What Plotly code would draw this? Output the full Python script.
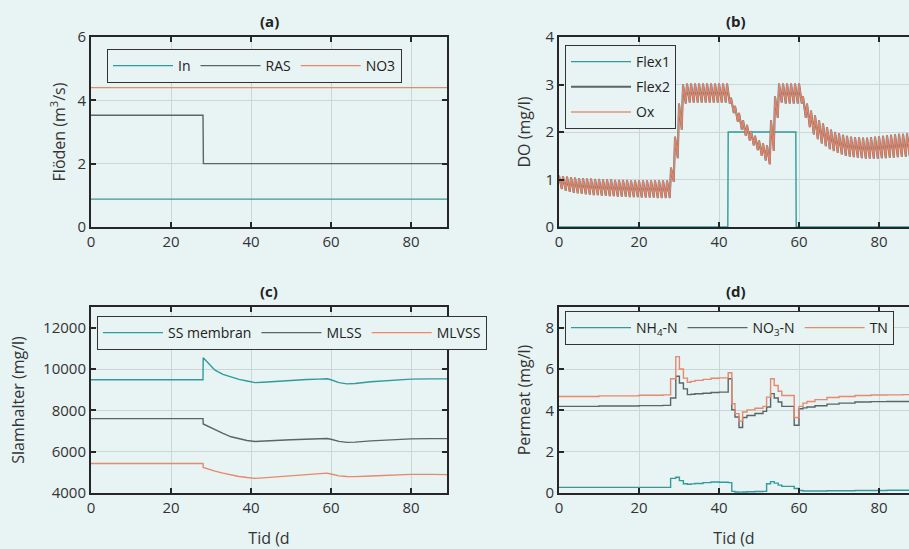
import plotly.graph_objects as go

# ---------------- data ----------------
# (a) flows
t_a = [0, 28, 28.1, 89]
q_in = [0.88, 0.88, 0.88, 0.88]
q_ras = [3.53, 3.53, 2.0, 2.0]
q_no3 = [4.4, 4.4, 4.4, 4.4]

# (b) DO: daily peak / trough of the aeration cycle, day 0..89
do_hi = [1.08, 1.07, 1.06, 1.05, 1.04, 1.03, 1.03, 1.02, 1.02, 1.01, 1.01, 1.0, 1.0, 1.0,
         0.99, 0.99, 0.99, 0.99, 0.98, 0.98, 0.98, 0.98, 0.98, 0.98, 0.98, 0.98, 0.98, 0.98,
         1.25, 1.9, 2.6, 3.0,
         3.02, 3.02, 3.02, 3.02, 3.02, 3.02, 3.02, 3.02, 3.02, 3.02, 3.02,
         2.72, 2.55, 2.4, 2.25, 2.15, 2.02, 1.92, 1.82, 1.76, 1.72,
         2.25, 2.75, 3.02,
         3.02, 3.02, 3.02, 3.02, 3.02,
         2.75, 2.6, 2.45, 2.35, 2.25, 2.18, 2.1, 2.05, 2.0, 1.97, 1.94, 1.92, 1.9, 1.89, 1.89,
         1.88, 1.88, 1.89, 1.9, 1.91, 1.92, 1.93, 1.94, 1.95, 1.96, 1.96, 1.97, 1.97, 1.98]
do_lo = [0.80, 0.76, 0.74, 0.72, 0.71, 0.70, 0.69, 0.68, 0.67, 0.67, 0.66, 0.66, 0.65, 0.65,
         0.64, 0.64, 0.64, 0.63, 0.63, 0.63, 0.62, 0.62, 0.62, 0.62, 0.61, 0.61, 0.61, 0.61,
         0.95, 1.45, 2.05, 2.6,
         2.62, 2.62, 2.62, 2.62, 2.62, 2.62, 2.62, 2.62, 2.62, 2.62, 2.6,
         2.4, 2.22, 2.05, 1.92, 1.82, 1.72, 1.62, 1.5, 1.4, 1.32,
         1.6, 2.3, 2.62,
         2.6, 2.6, 2.6, 2.6, 2.6,
         2.3, 2.1, 1.95, 1.85, 1.76, 1.7, 1.64, 1.6, 1.56, 1.53, 1.5, 1.48, 1.47, 1.46, 1.45,
         1.44, 1.44, 1.44, 1.44, 1.45, 1.45, 1.46, 1.46, 1.47, 1.48, 1.48, 1.49, 1.5, 1.5]
t_flex1 = [0, 42.2, 42.3, 59.2, 59.3, 89]
flex1 = [0, 0, 2.0, 2.0, 0, 0]

# (c) sludge concentrations
t_c = [0, 28, 28.05, 29, 30, 31, 33, 35, 37, 39, 41, 43, 46, 50, 54, 57, 59, 60, 62, 64, 66, 70, 75, 80, 85, 89]
ss_mem = [9480, 9480, 10540, 10330, 10120, 9940, 9740, 9610, 9500, 9420, 9340, 9360, 9400,
          9450, 9490, 9510, 9530, 9480, 9340, 9280, 9300, 9380, 9460, 9510, 9520, 9520]
mlss = [7600, 7600, 7340, 7250, 7150, 7040, 6880, 6720, 6620, 6540, 6490, 6500, 6540,
        6580, 6610, 6630, 6640, 6600, 6500, 6450, 6460, 6520, 6580, 6620, 6630, 6630]
mlvss = [5430, 5430, 5240, 5170, 5110, 5060, 4960, 4870, 4800, 4750, 4710, 4730, 4770,
         4830, 4890, 4930, 4960, 4920, 4830, 4800, 4790, 4820, 4870, 4900, 4900, 4890]

# (d) permeate nitrogen
t_d = [0, 10, 20, 26, 27.9, 29.2, 30.1, 31.1, 32.1, 33, 34, 36, 38, 40, 42.3, 43.2, 44.0, 45.0,
       45.9, 47, 49, 51.0, 51.9, 52.9, 53.8, 54.8, 55.7, 58.8, 60.0, 61, 62, 64, 67, 70, 74,
       78, 82, 86, 89]
nh4 = [0.27, 0.27, 0.27, 0.27, 0.71, 0.76, 0.6, 0.45, 0.42, 0.44, 0.46, 0.5, 0.53, 0.52, 0.5,
       0.08, 0.05, 0.04, 0.05, 0.06, 0.07, 0.08, 0.45, 0.55, 0.48, 0.38, 0.32, 0.22, 0.12, 0.1,
       0.1, 0.1, 0.11, 0.11, 0.12, 0.12, 0.13, 0.13, 0.13]
no3 = [4.19, 4.21, 4.23, 4.24, 4.6, 5.65, 5.32, 5.04, 4.76, 4.78, 4.8, 4.83, 4.86, 4.88, 5.53,
       4.03, 3.68, 3.17, 3.65, 3.75, 3.85, 3.95, 4.16, 4.81, 4.6, 4.4, 4.19, 3.28, 4.08, 4.12,
       4.16, 4.22, 4.3, 4.35, 4.4, 4.42, 4.43, 4.43, 4.43]
tn = [4.67, 4.7, 4.73, 4.75, 5.53, 6.6, 6.0, 5.56, 5.36, 5.4, 5.45, 5.5, 5.55, 5.57, 5.82,
      4.32, 3.84, 3.48, 3.92, 4.02, 4.1, 4.19, 4.64, 5.53, 5.2, 4.92, 4.72, 3.65, 4.19, 4.35,
      4.43, 4.52, 4.62, 4.67, 4.72, 4.74, 4.75, 4.76, 4.76]

# build the DO zigzag time axis from the daily peak/trough lists
t_do, do_vals = [], []
for d, (h, l) in enumerate(zip(do_hi, do_lo)):
    t_do += [d, d + 0.7]
    do_vals += [h, l]

# ---------------- style ----------------
W, H = 909, 549
BG = "#E8F3F3"
TEAL = "#2F9C9C"
GRAY = "#5C6565"
SAL = "#E8886C"
AX = "#262626"
GRID = "#CBD6D6"
FONT = "Open Sans"


def px(x):
    return x / W


def py(y):
    return 1 - y / H


fig = go.Figure()
lw = 1.4

# (a)
fig.add_trace(go.Scatter(x=t_a, y=q_in, name="In", mode="lines", line=dict(color=TEAL, width=lw),
                         xaxis="x", yaxis="y", legend="legend"))
fig.add_trace(go.Scatter(x=t_a, y=q_ras, name="RAS", mode="lines", line=dict(color=GRAY, width=lw),
                         xaxis="x", yaxis="y", legend="legend"))
fig.add_trace(go.Scatter(x=t_a, y=q_no3, name="NO3", mode="lines", line=dict(color=SAL, width=lw),
                         xaxis="x", yaxis="y", legend="legend"))
# (b)
fig.add_trace(go.Scatter(x=t_flex1, y=flex1, name="Flex1", mode="lines", line=dict(color=TEAL, width=lw),
                         xaxis="x2", yaxis="y2", legend="legend2", legendgroup="f1"))
fig.add_trace(go.Scatter(x=t_do, y=do_vals, name="Flex2", mode="lines", line=dict(color=GRAY, width=lw + 0.6),
                         xaxis="x2", yaxis="y2", legend="legend2", legendgroup="f2"))
fig.add_trace(go.Scatter(x=t_do, y=do_vals, name="Ox", mode="lines", line=dict(color=SAL, width=lw + 0.2),
                         opacity=0.9, xaxis="x2", yaxis="y2", legend="legend2", legendgroup="ox"))
# (c)
fig.add_trace(go.Scatter(x=t_c, y=ss_mem, name="SS membran", mode="lines", line=dict(color=TEAL, width=lw),
                         xaxis="x3", yaxis="y3", legend="legend3"))
fig.add_trace(go.Scatter(x=t_c, y=mlss, name="MLSS", mode="lines", line=dict(color=GRAY, width=lw),
                         xaxis="x3", yaxis="y3", legend="legend3"))
fig.add_trace(go.Scatter(x=t_c, y=mlvss, name="MLVSS", mode="lines", line=dict(color=SAL, width=lw),
                         xaxis="x3", yaxis="y3", legend="legend3"))
# (d)
fig.add_trace(go.Scatter(x=t_d, y=nh4, name="NH<sub>4</sub>-N", mode="lines", line=dict(color=TEAL, width=lw, shape="hv"),
                         xaxis="x4", yaxis="y4", legend="legend4"))
fig.add_trace(go.Scatter(x=t_d, y=no3, name="NO<sub>3</sub>-N", mode="lines", line=dict(color=GRAY, width=lw, shape="hv"),
                         xaxis="x4", yaxis="y4", legend="legend4"))
fig.add_trace(go.Scatter(x=t_d, y=tn, name="TN", mode="lines", line=dict(color=SAL, width=lw, shape="hv"),
                         xaxis="x4", yaxis="y4", legend="legend4"))


def axis(domain, rng, dtick, anchor, mirror=True, title=None, standoff=None):
    d = dict(domain=domain, range=rng, dtick=dtick, tick0=0, anchor=anchor,
             showline=True, linewidth=2, linecolor=AX, mirror="ticks" if mirror else False,
             ticks="inside", ticklen=5, tickwidth=2, tickcolor=AX, tickformat="d",
             showgrid=True, gridcolor=GRID, gridwidth=1, zeroline=False,
             tickfont=dict(size=15, color="#333333", family=FONT), fixedrange=True)
    if title:
        d["title"] = dict(text=title, font=dict(size=16, color="#333333", family=FONT),
                          standoff=standoff)
    return d


xa = [px(91), px(447)]
xb = [px(559), 1.0]
ya = [py(227), py(37)]
yc = [py(493), py(307)]
xb_max = (909 - 559) / 4.0

layout = dict(
    width=W, height=H, margin=dict(l=0, r=0, t=0, b=0, autoexpand=False),
    paper_bgcolor=BG, plot_bgcolor=BG,
    font=dict(family=FONT, color="#333333"),
    xaxis=axis(xa, [0, 89], 20, "y"),
    yaxis=axis(ya, [0, 6], 2, "x", title="Flöden (m<sup>3</sup>/s)", standoff=8),
    xaxis2=axis(xb, [0, xb_max], 20, "y2"),
    yaxis2=axis(ya, [0, 4], 1, "x2", mirror=False, title="DO (mg/l)", standoff=11),
    xaxis3=axis(xa, [0, 89], 20, "y3", title="Tid (d", standoff=18),
    yaxis3=axis(yc, [4000, 13000], 2000, "x3", title="Slamhalter (mg/l)", standoff=15),
    xaxis4=axis(xb, [0, xb_max], 20, "y4", title="Tid (d", standoff=18),
    yaxis4=axis(yc, [0, 9], 2, "x4", mirror=False, title="Permeat (mg/l)", standoff=11),
)
for k in ["xaxis2", "xaxis4"]:
    layout[k]["mirror"] = "ticks"

leg_common = dict(bgcolor=BG, bordercolor="#333333", borderwidth=1,
                  font=dict(size=14, color="#222222", family=FONT),
                  xanchor="left", yanchor="top", itemwidth=60)
layout["legend"] = dict(leg_common, orientation="h", x=px(107), y=py(49))
layout["legend2"] = dict(leg_common, orientation="v", x=px(565), y=py(45), tracegroupgap=4)
layout["legend3"] = dict(leg_common, orientation="h", x=px(97), y=py(316))
layout["legend4"] = dict(leg_common, orientation="h", x=px(565), y=py(311))

ann = []
for txt, x, y in [("(a)", 269, 21), ("(b)", 736, 21), ("(c)", 269, 291), ("(d)", 736, 291)]:
    ann.append(dict(text="<b>%s</b>" % txt, x=px(x), y=py(y), xref="paper", yref="paper",
                    showarrow=False, xanchor="center", yanchor="middle",
                    font=dict(size=15, color="#222222", family=FONT)))
layout["annotations"] = ann

fig.update_layout(**layout)
fig.write_html("out.html", config=dict(displayModeBar=False))
